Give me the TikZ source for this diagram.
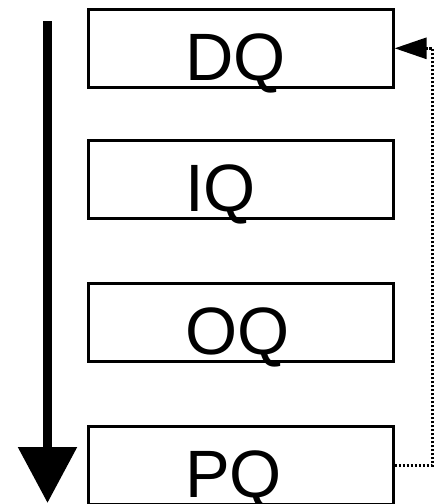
\documentclass[tikz,border=0pt]{standalone}
\usepackage{fontspec}
\setmainfont{Liberation Sans}
\usepackage{tikz}
\usetikzlibrary{calc}
\usetikzlibrary{arrows.meta}
\tikzset{qbox/.style={draw, line width=2.6pt, anchor=north west, inner sep=0pt,
	text width=305pt, align=left, text height=71pt, text depth=7pt,
	font=\fontsize{67}{70}\selectfont, execute at begin node={\hspace*{97pt}}}}

\begin{document}
\begin{tikzpicture}[x=1pt,y=-1pt]
	\useasboundingbox (0,0) rectangle (437,504);
	\node [qbox] (dq) at (87,8) {DQ};
	\node [qbox] (iq) at (87,139) {IQ};
	\node [qbox] (oq) at (87,282) {OQ};
	\node [qbox] (pq) at (87,425) {PQ};
	% order of the queues
	\coordinate (flowtop) at (47.5,21);
	\coordinate (flowend) at (47.5,503);
	\draw [line width=9pt,-{Triangle[length=56pt,width=57pt]}] (flowtop) -- (flowend);
	% back to the first queue
	\draw [line width=3pt,dash pattern=on 2.5pt off 1.5pt,-{Triangle[length=32pt,width=21pt]}] (pq.east) -- ++(38,0) |- (dq.east);
\end{tikzpicture}
\end{document}
